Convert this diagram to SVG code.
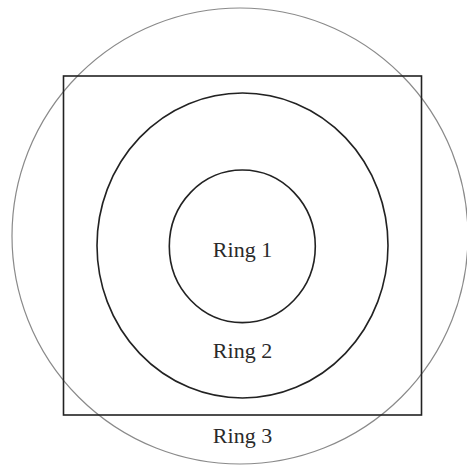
<svg xmlns="http://www.w3.org/2000/svg" width="467" height="466" viewBox="0 0 467 466">
<style>
.ring{fill:none;stroke:#222;stroke-width:1.6}
.outer{fill:none;stroke:#8a8a8a;stroke-width:1.2}
.lbl{font-family:"Liberation Serif",serif;font-size:22px;fill:#2a2a2a;text-anchor:middle}
</style>
<rect width="467" height="466" fill="#fff"/>
<g id="ring3">
<circle class="outer" cx="240" cy="236" r="228"/>
<rect class="ring" x="63.5" y="76" width="358" height="339"/>
<text class="lbl" x="242.5" y="443">Ring 3</text>
</g>
<g id="ring2">
<ellipse class="ring" cx="242.5" cy="245.5" rx="145.5" ry="152.5"/>
<text class="lbl" x="242.5" y="358">Ring 2</text>
</g>
<g id="ring1">
<ellipse class="ring" cx="242.3" cy="246.3" rx="73" ry="76.3"/>
<text class="lbl" x="242.5" y="256.5">Ring 1</text>
</g>
<g id="connectors"/>
</svg>
